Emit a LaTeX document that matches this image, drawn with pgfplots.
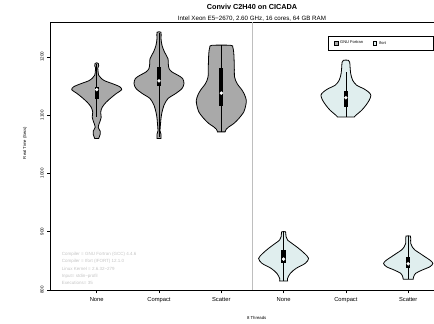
\documentclass[border=0pt]{standalone}
\usepackage{pgfplots}
\pgfplotsset{compat=1.18}
\usepackage{fontspec}
\setmainfont{Liberation Sans}
\definecolor{gnu}{HTML}{A9A9A9}
\definecolor{ifo}{HTML}{E0EEEE}
\definecolor{ann}{HTML}{C4C4C4}
\definecolor{sep}{HTML}{BEBEBE}
\begin{document}
\begin{tikzpicture}
\path[use as bounding box] (0,0) rectangle (434pt,324pt);
\begin{axis}[
  at={(50.6pt,34pt)}, anchor=south west,
  scale only axis, width=383.4pt, height=268pt,
  xmin=0.26, xmax=6.414, ymin=800, ymax=1260,
  axis x line*=bottom, axis y line*=left,
  clip mode=individual,
  xtick={1,2,3,4,5,6},
  xticklabels={None,Compact,Scatter,None,Compact,Scatter},
  ytick={800,900,1000,1100,1200},
  tick align=outside, major tick length=3.5pt,
  tick style={black, line width=0.6pt},
  axis line style={line width=0.9pt},
  /pgf/number format/assume math mode=true,
  /pgf/number format/1000 sep={},
  yticklabel style={rotate=90, anchor=south, font=\fontsize{4.5}{5}\selectfont},
  xticklabel style={font=\fontsize{5.8}{6}\selectfont},
  ylabel={Real Time (Secs)},
  every axis y label/.style={at={(axis description cs:-0.0668,0.549)}, rotate=90, anchor=center, font=\fontsize{4.2}{5}\selectfont},
  legend style={at={(axis description cs:0.7392,0.9205)}, anchor=west, draw=none, fill=none,
    legend columns=2, font=\fontsize{4}{4}\selectfont, inner sep=0pt,
    /tikz/every even column/.append style={column sep=8pt}},
  legend image code/.code={\draw[#1, line width=0.6pt] (0pt,-1.6pt) rectangle (3.4pt,1.6pt);},
]
% top frame line
\draw[line width=0.9pt] (rel axis cs:0,1) -- (rel axis cs:1,1);
% separator
\addplot[forget plot, sep, line width=0.7pt] coordinates {(3.5,800) (3.5,1260)};

% ---- GNU Fortran violins
\addplot[forget plot, fill=gnu, draw=black, line width=0.8pt, smooth, tension=0.5] coordinates {
(1.032,1060.1) (1.056,1067.4) (1.056,1072.6) (1.024,1079.4) (1.048,1088.0) (1.072,1096.6) (1.064,1105.1) (1.088,1113.7) (1.152,1122.3) (1.241,1130.9) (1.321,1137.7) (1.401,1143.7) (1.369,1148.9) (1.257,1154.0) (1.128,1159.1) (1.072,1163.4) (1.032,1168.6) (1.022,1175.4) (1.017,1180.6) (1.032,1185.0) (1.026,1188.8) (1.0,1190)
(0.974,1188.8) (0.968,1185.0) (0.983,1180.6) (0.978,1175.4) (0.968,1168.6) (0.928,1163.4) (0.872,1159.1) (0.743,1154.0) (0.631,1148.9) (0.599,1143.7) (0.679,1137.7) (0.759,1130.9) (0.848,1122.3) (0.912,1113.7) (0.936,1105.1) (0.928,1096.6) (0.952,1088.0) (0.976,1079.4) (0.944,1072.6) (0.944,1067.4) (0.968,1060.1)
} -- cycle;
\addplot[forget plot, fill=gnu, draw=black, line width=0.8pt, smooth, tension=0.5] coordinates {
(2.032,1060.1) (2.032,1067.4) (2.016,1073.4) (2.024,1084.6) (2.032,1094.9) (2.048,1105.1) (2.080,1117.1) (2.144,1128.6) (2.268,1137.2) (2.369,1145.8) (2.401,1154.3) (2.380,1162.9) (2.305,1168.6) (2.209,1174.2) (2.161,1180.1) (2.149,1188.6) (2.144,1197.2) (2.088,1208.5) (2.048,1220.0) (2.032,1232.0) (2.032,1242.3)
(1.968,1242.3) (1.968,1232.0) (1.952,1220.0) (1.912,1208.5) (1.856,1197.2) (1.851,1188.6) (1.839,1180.1) (1.791,1174.2) (1.695,1168.6) (1.620,1162.9) (1.599,1154.3) (1.631,1145.8) (1.732,1137.2) (1.856,1128.6) (1.920,1117.1) (1.952,1105.1) (1.968,1094.9) (1.976,1084.6) (1.984,1073.4) (1.968,1067.4) (1.968,1060.1)
} -- cycle;
\addplot[forget plot, fill=gnu, draw=black, line width=0.8pt, smooth, tension=0.5] coordinates {
(3.061,1071.4) (3.080,1076.0) (3.120,1079.9) (3.201,1085.8) (3.281,1094.3) (3.361,1105.7) (3.393,1117.1) (3.401,1125.7) (3.377,1134.3) (3.334,1142.9) (3.254,1154.3) (3.213,1165.7) (3.209,1182.8) (3.201,1205.8) (3.185,1216.6) (3.150,1220.0)
(2.850,1220.0) (2.815,1216.6) (2.799,1205.8) (2.791,1182.8) (2.787,1165.7) (2.746,1154.3) (2.666,1142.9) (2.623,1134.3) (2.599,1125.7) (2.607,1117.1) (2.639,1105.7) (2.719,1094.3) (2.799,1085.8) (2.880,1079.9) (2.920,1076.0) (2.939,1071.4)
} -- cycle;

% ---- Ifort violins
\addplot[forget plot, fill=ifo, draw=black, line width=0.8pt, smooth, tension=0.5] coordinates {
(4.064,815.4) (4.064,820.1) (4.108,828.6) (4.201,837.2) (4.348,845.8) (4.401,854.3) (4.334,862.9) (4.241,871.5) (4.133,880.1) (4.064,885.7) (4.040,891.4) (4.035,897.7) (4.030,900)
(3.970,900) (3.965,897.7) (3.960,891.4) (3.936,885.7) (3.867,880.1) (3.759,871.5) (3.666,862.9) (3.599,854.3) (3.652,845.8) (3.799,837.2) (3.892,828.6) (3.936,820.1) (3.936,815.4)
} -- cycle;
\addplot[forget plot, fill=ifo, draw=black, line width=0.8pt, smooth, tension=0.5] coordinates {
(5.136,1097.1) (5.161,1100.0) (5.254,1108.6) (5.321,1117.1) (5.374,1125.7) (5.401,1134.3) (5.361,1140.0) (5.281,1145.8) (5.173,1151.4) (5.108,1160.0) (5.077,1171.5) (5.067,1182.8) (5.061,1190.9) (5.040,1194.3)
(4.960,1194.3) (4.939,1190.9) (4.933,1182.8) (4.923,1171.5) (4.892,1160.0) (4.827,1151.4) (4.719,1145.8) (4.639,1140.0) (4.599,1134.3) (4.626,1125.7) (4.679,1117.1) (4.746,1108.6) (4.839,1100.0) (4.864,1097.1)
} -- cycle;
\addplot[forget plot, fill=ifo, draw=black, line width=0.8pt, smooth, tension=0.5] coordinates {
(6.080,818.3) (6.088,822.8) (6.120,828.6) (6.225,834.3) (6.348,839.9) (6.396,845.8) (6.348,851.4) (6.268,857.1) (6.188,862.9) (6.108,868.6) (6.064,874.2) (6.040,880.1) (6.040,889.1) (6.035,892.6)
(5.965,892.6) (5.960,889.1) (5.960,880.1) (5.936,874.2) (5.892,868.6) (5.812,862.9) (5.732,857.1) (5.652,851.4) (5.604,845.8) (5.652,839.9) (5.775,834.3) (5.880,828.6) (5.912,822.8) (5.920,818.3)
} -- cycle;

% ---- whiskers
\addplot[forget plot, black, line width=0.7pt] coordinates {(1,1097) (1,1188)};
\addplot[forget plot, black, line width=0.7pt] coordinates {(2,1062) (2,1241)};
\addplot[forget plot, black, line width=0.7pt] coordinates {(3,1071.4) (3,1220)};
\addplot[forget plot, black, line width=0.7pt] coordinates {(4,815.4) (4,900)};
\addplot[forget plot, black, line width=0.7pt] coordinates {(5,1097.1) (5,1174)};
\addplot[forget plot, black, line width=0.7pt] coordinates {(6,818.3) (6,892)};

% ---- boxes (Q1..Q3)
\addplot[forget plot, fill=black, draw=none] coordinates {(0.965,1127) (1.035,1127) (1.035,1148) (0.965,1148)} -- cycle;
\addplot[forget plot, fill=black, draw=none] coordinates {(1.965,1150) (2.035,1150) (2.035,1182) (1.965,1182)} -- cycle;
\addplot[forget plot, fill=black, draw=none] coordinates {(2.965,1115) (3.035,1115) (3.035,1181) (2.965,1181)} -- cycle;
\addplot[forget plot, fill=black, draw=none] coordinates {(3.965,847) (4.035,847) (4.035,869) (3.965,869)} -- cycle;
\addplot[forget plot, fill=black, draw=none] coordinates {(4.965,1114) (5.035,1114) (5.035,1141) (4.965,1141)} -- cycle;
\addplot[forget plot, fill=black, draw=none] coordinates {(5.965,837) (6.035,837) (6.035,857) (5.965,857)} -- cycle;

% ---- medians
\addplot[forget plot, only marks, mark=*, mark size=1.5pt, mark options={fill=white, draw=white}] coordinates {(1,1144) (2,1159) (3,1138) (4,853) (5,1130) (6,845)};

% ---- legend
\addlegendimage{fill=gnu, draw=black}
\addlegendentry{GNU Fortran}
\addlegendimage{fill=ifo, draw=black}
\addlegendentry{Ifort}
\end{axis}

% legend frame
\draw[line width=0.6pt] (328pt,287.3pt) rectangle (433pt,274pt);

% annotations
\begin{scope}[every node/.style={anchor=base west, text=ann, font=\fontsize{4.5}{5}\selectfont, inner sep=0pt}]
\node at (61.7pt,68.4pt) {Compiler = GNU Fortran (GCC) 4.4.6};
\node at (61.7pt,61.1pt) {Compiler = Ifort (IFORT) 12.1.0};
\node at (61.7pt,53.8pt) {Linux Kernel = 2.6.32−279};
\node at (61.7pt,46.5pt) {Input= stdin−profil};
\node at (61.7pt,39.2pt) {Executions= 35};
\end{scope}

% titles and x label
\node[anchor=center, font=\fontsize{7.3}{8}\selectfont\bfseries] at (252pt,317pt) {Conviv C2H40 on CICADA};
\node[anchor=center, font=\fontsize{6.2}{7}\selectfont] at (252pt,305pt) {Intel Xeon E5−2670, 2.60 GHz, 16 cores, 64 GB RAM};
\node[anchor=center, font=\fontsize{4.3}{5}\selectfont] at (256.7pt,6.3pt) {8 Threads};
\end{tikzpicture}
\end{document}
